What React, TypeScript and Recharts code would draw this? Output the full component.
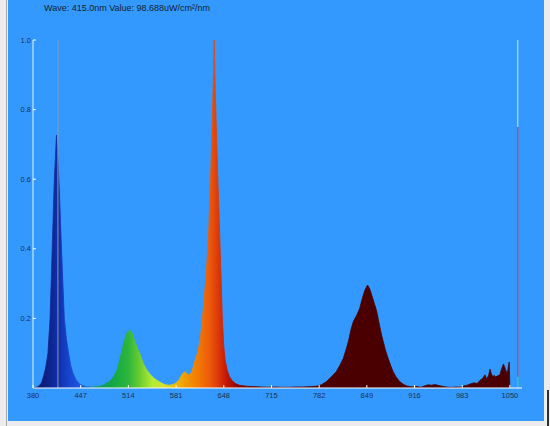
import { Area, AreaChart, ReferenceLine, XAxis, YAxis } from 'recharts'

const wavelengths = [
  380, 383, 386, 389, 392, 395, 398, 401, 404, 407, 410, 413, 414, 417, 420, 424, 427, 430, 433, 436,
  440, 445, 450, 455, 460, 465, 470, 475, 480, 485, 490, 494, 498, 501, 504, 508, 512, 516, 519, 523,
  527, 530, 535, 540, 545, 550, 555, 560, 565, 570, 575, 580, 585, 589, 593, 596, 599, 603, 607, 611,
  615, 618, 621, 624, 627, 630, 632, 633.5, 634.6, 636, 638, 640, 642, 644, 646, 648, 650, 653, 656, 660,
  665, 670, 680, 690, 700, 710, 720, 730, 740, 750, 760, 770, 778, 785, 792, 800, 806, 811, 816, 820,
  823, 827, 830, 835, 839, 842, 846, 850, 853, 857, 860, 863, 866, 870, 875, 879, 883, 886, 890, 895,
  900, 905, 910, 915, 920, 925, 930, 935, 940, 945, 950, 955, 960, 965, 970, 975, 980, 985, 990, 995,
  1000, 1004, 1008, 1012, 1015, 1017, 1020, 1022, 1024, 1026, 1028, 1030, 1033, 1036, 1038, 1041, 1043, 1045, 1047, 1049,
  1050,
]

const irradiance = [
  0, 0.001, 0.003, 0.007, 0.015, 0.035, 0.06, 0.1, 0.2, 0.4, 0.6, 0.727, 0.7, 0.57, 0.4, 0.2, 0.14, 0.1, 0.065, 0.043,
  0.025, 0.012, 0.007, 0.004, 0.003, 0.003, 0.004, 0.006, 0.01, 0.016, 0.023, 0.035, 0.052, 0.075, 0.1, 0.135, 0.158, 0.167, 0.158, 0.135,
  0.112, 0.1, 0.07, 0.052, 0.038, 0.028, 0.021, 0.015, 0.01, 0.008, 0.009, 0.013, 0.022, 0.038, 0.047, 0.042, 0.037, 0.045, 0.075, 0.1,
  0.14, 0.2, 0.27, 0.35, 0.46, 0.64, 0.78, 0.9, 1.0, 0.86, 0.713, 0.58, 0.46, 0.33, 0.2, 0.12, 0.08, 0.05, 0.033, 0.02,
  0.012, 0.008, 0.005, 0.004, 0.003, 0.002, 0.003, 0.002, 0.002, 0.003, 0.003, 0.004, 0.005, 0.009, 0.018, 0.034, 0.047, 0.065, 0.085, 0.112,
  0.133, 0.17, 0.191, 0.21, 0.229, 0.253, 0.28, 0.296, 0.285, 0.26, 0.24, 0.22, 0.188, 0.15, 0.11, 0.085, 0.062, 0.047, 0.032, 0.019,
  0.011, 0.006, 0.004, 0.003, 0.004, 0.002, 0.006, 0.009, 0.008, 0.01, 0.007, 0.005, 0.003, 0.002, 0.002, 0.003, 0.002, 0.006, 0.008, 0.012,
  0.015, 0.013, 0.022, 0.028, 0.038, 0.027, 0.035, 0.054, 0.04, 0.033, 0.036, 0.032, 0.035, 0.038, 0.053, 0.069, 0.058, 0.045, 0.05, 0.075,
  0,
]

const xTicks = [380, 447, 514, 581, 648, 715, 782, 849, 916, 983, 1050]
const yTicks = [0.2, 0.4, 0.6, 0.8, 1.0]

const cursorWave = 415
const cursorValue = 98.688
const markerWave = 1061

const spectrum = wavelengths.map((wave, i) => ({ wave, value: irradiance[i] }))

// fill colour along the wavelength axis
const spectrumColors: [number, string][] = [
  [380, '#0a1258'],
  [400, '#0c2286'],
  [415, '#0f2ea8'],
  [430, '#1644cc'],
  [448, '#1d58e4'],
  [470, '#109a70'],
  [490, '#12a545'],
  [514, '#2db63c'],
  [530, '#6ccc30'],
  [548, '#b4ec36'],
  [565, '#d6e02a'],
  [580, '#ecba08'],
  [595, '#f29a00'],
  [612, '#f27a02'],
  [628, '#ec5a0c'],
  [640, '#dc3a0a'],
  [652, '#c41604'],
  [668, '#8c0400'],
  [700, '#4c0000'],
  [1050, '#4a0000'],
]

const tickFont = { fontFamily: '"Liberation Sans", Arial, sans-serif', fontSize: 7.5, fill: '#1e3250' }

function XTick({ x, y, payload }: any) {
  return (
    <g>
      <line x1={x} x2={x} y1={y} y2={y - 3} stroke="#ffffff" />
      <text x={x} y={y + 9.5} textAnchor="middle" {...tickFont}>
        {payload.value}
      </text>
    </g>
  )
}

function YTick({ x, y, payload }: any) {
  return (
    <g>
      <line x1={x} x2={x + 3} y1={y} y2={y} stroke="#ffffff" />
      <text x={x - 2} y={y + 2.6} textAnchor="end" {...tickFont}>
        {payload.value.toFixed(1)}
      </text>
    </g>
  )
}

export default function App() {
  return (
    <div style={{ position: 'absolute', left: 0, top: 0, width: 550, height: 426, background: '#ececec', overflow: 'hidden' }}>
      <div style={{ position: 'absolute', left: 6, top: 0, width: 1, height: 426, background: '#a8a8a8' }} />
      <div style={{ position: 'absolute', left: 8, top: 0, width: 536, height: 421, background: '#3399ff' }} />
      <div style={{ position: 'absolute', left: 547, top: 390, width: 2, height: 36, background: '#303030' }} />
      <div
        style={{
          position: 'absolute',
          left: 44,
          top: 3,
          fontFamily: '"Liberation Sans", Arial, sans-serif',
          fontSize: 9,
          color: '#141e2e',
          whiteSpace: 'nowrap',
        }}
      >
        {`Wave: ${cursorWave.toFixed(1)}nm Value: ${cursorValue}uW/cm²/nm`}
      </div>
      <div style={{ position: 'absolute', left: 0, top: 0 }}>
        <AreaChart width={550} height={426} data={spectrum} margin={{ top: 40, right: 28, bottom: 18, left: 0 }}>
          <defs>
            <linearGradient id="spectrum-fill" x1="0" x2="1" y1="0" y2="0">
              {spectrumColors.map(([nm, color]) => (
                <stop key={nm} offset={`${((nm - 380) / 670) * 100}%`} stopColor={color} />
              ))}
            </linearGradient>
          </defs>
          <XAxis
            dataKey="wave"
            type="number"
            domain={[380, 1067]}
            ticks={xTicks}
            interval={0}
            height={20}
            axisLine={{ stroke: '#ffffff' }}
            tickLine={false}
            tickSize={0}
            tickMargin={0}
            tick={<XTick />}
          />
          <YAxis
            type="number"
            domain={[0, 1]}
            ticks={yTicks}
            width={33}
            axisLine={{ stroke: '#e8f4ff' }}
            tickLine={false}
            tickSize={0}
            tickMargin={0}
            tick={<YTick />}
          />
          <Area
            type="linear"
            dataKey="value"
            stroke="url(#spectrum-fill)"
            strokeWidth={0.8}
            fill="url(#spectrum-fill)"
            fillOpacity={1}
            isAnimationActive={false}
          />
          <ReferenceLine x={cursorWave} stroke="#9098a6" strokeWidth={1} />
          <ReferenceLine segment={[{ x: markerWave, y: 1 }, { x: markerWave, y: 0.75 }]} stroke="#a6d4f4" strokeWidth={1.3} />
          <ReferenceLine segment={[{ x: markerWave, y: 0.75 }, { x: markerWave, y: 0.032 }]} stroke="#a8548e" strokeWidth={1.5} />
          <ReferenceLine segment={[{ x: markerWave, y: 0.032 }, { x: markerWave, y: 0 }]} stroke="#30c8a0" strokeWidth={1.5} />
        </AreaChart>
      </div>
    </div>
  )
}
